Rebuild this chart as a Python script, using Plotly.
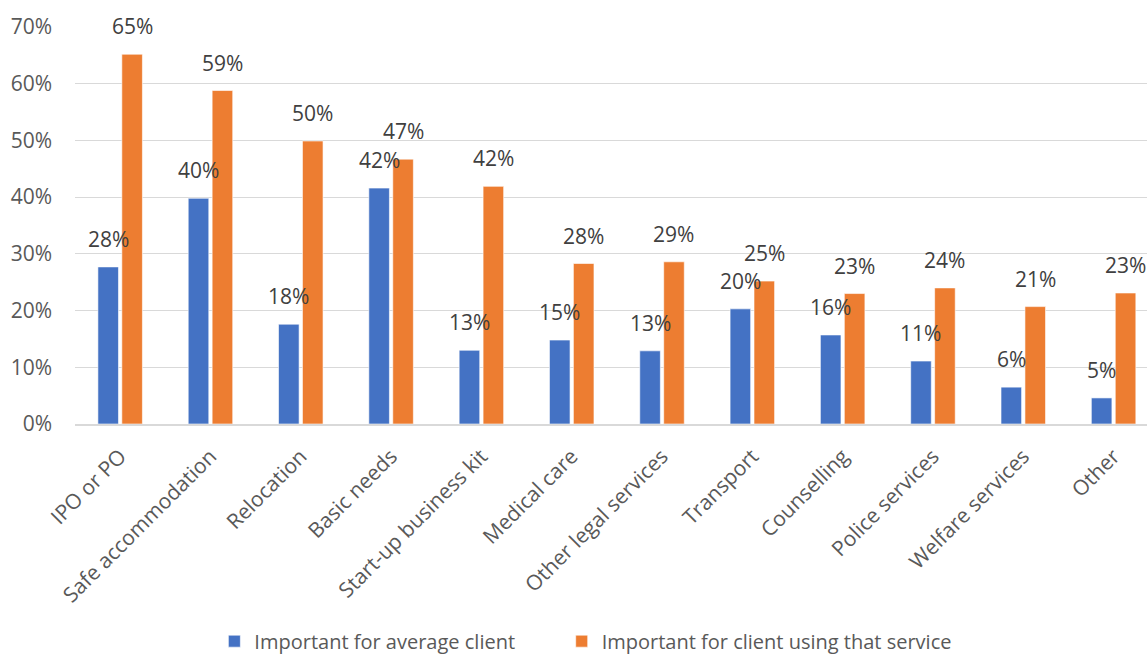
import plotly.graph_objects as go

categories = ["IPO or PO", "Safe accommodation", "Relocation", "Basic needs",
              "Start-up business kit", "Medical care", "Other legal services",
              "Transport", "Counselling", "Police services", "Welfare services", "Other"]
average_client = [27.7, 39.8, 17.6, 41.6, 13.0, 14.8, 12.9, 20.3, 15.7, 11.1, 6.5, 4.6]
service_users = [65.2, 58.8, 49.9, 46.7, 41.9, 28.3, 28.6, 25.2, 23.0, 24.0, 20.7, 23.1]
series_names = ["Important for average client", "Important for client using that service"]
y_ticks = [0, 10, 20, 30, 40, 50, 60, 70]

FONT = "Open Sans"
W, H = 1147, 655
ML, MR, MT, MB = 75, 0, 27, 231
X_RANGE = [-0.5, 11.37]
BARGAP = 0.47

fig = go.Figure()
colors = ["#4472C4", "#ED7D31"]
legend_ids = ["legend", "legend2"]
for name, vals, color, lg in zip(series_names, [average_client, service_users], colors, legend_ids):
    fig.add_trace(go.Bar(
        x=categories, y=vals, name=name, legend=lg,
        marker=dict(color=color, line=dict(color="white", width=0.6)),
    ))

# data labels as annotations, lifted above the bars like the original
px_per_cat = (W - ML - MR) / (X_RANGE[1] - X_RANGE[0])
slot_px = (1 - BARGAP) * px_per_cat / 2
for k, vals in enumerate([average_client, service_users]):
    shift = (k - 0.5) * slot_px
    for cat, v in zip(categories, vals):
        fig.add_annotation(
            x=cat, y=v, xref="x", yref="y", text=f"{round(v):d}%",
            showarrow=False, xshift=shift, yshift=12, yanchor="bottom",
            font=dict(family=FONT, size=21, color="#404040"),
        )

legend_style = dict(orientation="h", xanchor="left", y=-0.547, yanchor="middle",
                    font=dict(family=FONT, size=20, color="#595959"), itemwidth=30)
fig.update_layout(
    width=W, height=H,
    margin=dict(l=ML, r=MR, t=MT, b=MB, autoexpand=False),
    paper_bgcolor="white", plot_bgcolor="white",
    barmode="group", bargap=BARGAP, bargroupgap=0.14,
    showlegend=True,
    legend=dict(x=0.130, **legend_style),
    legend2=dict(x=0.454, **legend_style),
    font=dict(family=FONT, color="#595959"),
)
fig.update_xaxes(
    range=X_RANGE, tickangle=-45, showgrid=False, automargin=False,
    showline=True, linecolor="#D9D9D9", linewidth=1.5,
    tickfont=dict(family=FONT, size=21, color="#595959"),
    ticks="", ticklabelstandoff=10,
)
fig.update_yaxes(
    range=[0, 70], tickvals=y_ticks, ticktext=[f"{t}%" for t in y_ticks],
    showgrid=True, gridcolor="#D9D9D9", gridwidth=1.2, automargin=False,
    zeroline=False, showline=False,
    tickfont=dict(family=FONT, size=21, color="#595959"),
    ticks="", ticklabelstandoff=22,
)
fig.write_html("out.html", config={"displayModeBar": False},
               post_script="document.body.style.margin='0';document.body.style.overflow='hidden';")
